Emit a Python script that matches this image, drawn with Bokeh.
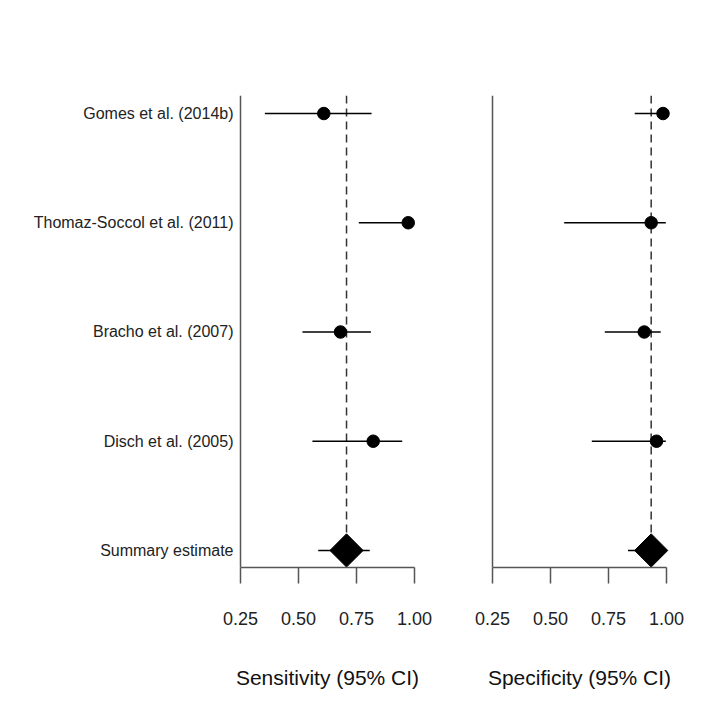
import numpy as np
from bokeh.plotting import figure
from bokeh.models import Range1d, FixedTicker, LinearAxis
from bokeh.layouts import row
from bokeh.embed import file_html
from bokeh.resources import INLINE

# ---- data ----
studies = ["Gomes et al. (2014b)", "Thomaz-Soccol et al. (2011)",
           "Bracho et al. (2007)", "Disch et al. (2005)"]
summary_label = "Summary estimate"

sens_est = [0.609, 0.973, 0.681, 0.822]
sens_lo = [0.355, 0.760, 0.517, 0.560]
sens_hi = [0.815, 0.990, 0.812, 0.947]
sens_sum = [0.707]
sens_sum_lo = [0.585]
sens_sum_hi = [0.807]

spec_est = [0.985, 0.934, 0.904, 0.957]
spec_lo = [0.863, 0.559, 0.734, 0.678]
spec_hi = [0.995, 0.997, 0.975, 0.997]
spec_sum = [0.934]
spec_sum_lo = [0.834]
spec_sum_hi = [0.970]

x_ticks = [0.25, 0.5, 0.75, 1.0]
x_tick_labels = ["0.25", "0.50", "0.75", "1.00"]
titles = ["Sensitivity (95% CI)", "Specificity (95% CI)"]

FONT = "Liberation Sans"
n = len(studies)
ys = list(range(n, 0, -1))          # study rows, top to bottom
y_sum = [0]                          # summary row
Y0, Y1 = -0.156, n + 0.165
PX_PER_UNIT = 232.0
PAD = 0.0819                          # room for the markers beyond 1.00
X0 = x_ticks[0] - PAD
X1 = x_ticks[-1] + PAD
FW = int(round((X1 - X0) * PX_PER_UNIT))
PAD_PX = int(round(PAD * PX_PER_UNIT))


def panel(est, lo, hi, s, slo, shi, title, labels, border_left, border_right):
    p = figure(frame_width=FW, frame_height=472,
               x_range=Range1d(X0, X1), y_range=Range1d(Y0, Y1),
               output_backend="svg", toolbar_location=None,
               min_border_left=border_left, min_border_right=border_right,
               min_border_top=95, min_border_bottom=140,
               background_fill_color="white", border_fill_color="white")
    p.outline_line_color = None
    p.xgrid.visible = False
    p.ygrid.visible = False

    xa = p.xaxis[0]
    xa.ticker = FixedTicker(ticks=x_ticks)
    xa.major_label_overrides = {t: l for t, l in zip(x_ticks, x_tick_labels)}
    xa.bounds = (x_ticks[0], x_ticks[-1])
    xa.axis_line_color = "#555555"
    xa.axis_line_width = 1.5
    xa.major_tick_line_color = "#555555"
    xa.major_tick_line_width = 1.5
    xa.major_tick_in = 0
    xa.major_tick_out = 16
    xa.minor_tick_line_color = None
    xa.major_label_standoff = 28
    xa.major_label_text_font = FONT
    xa.major_label_text_font_size = "18px"
    xa.major_label_text_color = "#222222"
    xa.axis_label = title
    xa.axis_label_text_font = FONT
    xa.axis_label_text_font_size = "21px"
    xa.axis_label_text_font_style = "normal"
    xa.axis_label_text_color = "#111111"
    xa.axis_label_standoff = 38

    # default left axis: only the row labels
    ya = p.yaxis[0]
    ya.axis_line_color = None
    ya.major_tick_line_color = None
    ya.minor_tick_line_color = None
    ya.major_tick_in = 0
    ya.major_tick_out = 0
    if labels:
        ticks = ys + y_sum
        ya.ticker = FixedTicker(ticks=ticks)
        ya.major_label_overrides = {t: l for t, l in zip(ticks, studies + [summary_label])}
        ya.major_label_standoff = 7 - PAD_PX
        ya.major_label_text_font = FONT
        ya.major_label_text_font_size = "16px"
        ya.major_label_text_color = "#222222"
    else:
        ya.ticker = FixedTicker(ticks=[])

    # vertical axis line at x = 0.25
    yline = LinearAxis(fixed_location=x_ticks[0], ticker=FixedTicker(ticks=[]),
                       axis_line_color="#555555", axis_line_width=1.5,
                       major_tick_line_color=None, minor_tick_line_color=None)
    p.add_layout(yline, "left")

    # dashed reference line at the summary estimate
    p.segment(x0=s, y0=[Y1], x1=s, y1=y_sum, line_color="#333333",
              line_width=1.5, line_dash="8 5")
    # study CIs and points
    p.segment(x0=lo, y0=ys, x1=hi, y1=ys, line_color="black", line_width=1.6)
    p.scatter(x=est, y=ys, size=12.5, marker="circle",
              fill_color="black", line_color="black")
    # summary
    p.segment(x0=slo, y0=y_sum, x1=shi, y1=y_sum, line_color="black", line_width=1.6)
    p.scatter(x=s, y=y_sum, size=23.5, marker="square", angle=np.pi / 4,
              fill_color="black", line_color="black")
    return p


p1 = panel(sens_est, sens_lo, sens_hi, sens_sum, sens_sum_lo, sens_sum_hi,
           titles[0], True, 221, 5)
p2 = panel(spec_est, spec_lo, spec_hi, spec_sum, spec_sum_lo, spec_sum_hi,
           titles[1], False, 35, 5)

layout = row(p1, p2, spacing=0)
open("out.html", "w").write(file_html(layout, INLINE))
